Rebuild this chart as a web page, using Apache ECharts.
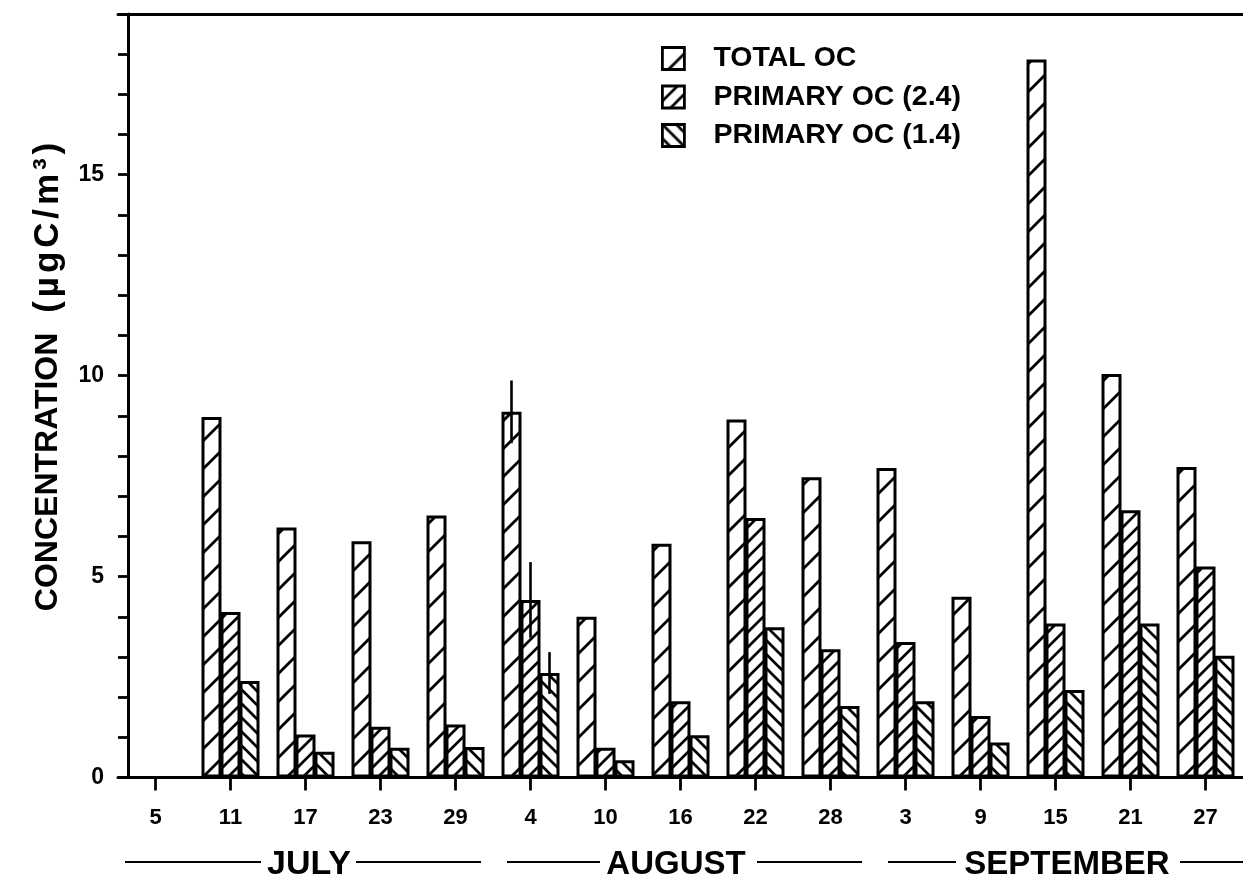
<!DOCTYPE html>
<html>
<head>
<meta charset="utf-8">
<script src="https://cdn.jsdelivr.net/npm/echarts@6/dist/echarts.min.js"></script>
<style>
html,body{margin:0;padding:0;background:#fff;}
#c{width:1243px;height:888px;}
</style>
</head>
<body>
<div id="c"></div>
<script>
// ---- data ----
const dates = ['5','11','17','23','29','4','10','16','22','28','3','9','15','21','27'];
const totalOC   = ['-', 8.97, 6.22, 5.88, 6.52, 9.10, 4.00, 5.82, 8.91, 7.47, 7.70, 4.50, 17.87, 10.04, 7.73];
const primary24 = ['-', 4.12, 1.07, 1.26, 1.32, 4.42, 0.74, 1.90, 6.46, 3.19, 3.37, 1.53, 3.83, 6.65, 5.25];
const primary14 = ['-', 2.40, 0.64, 0.74, 0.76, 2.60, 0.43, 1.05, 3.74, 1.78, 1.90, 0.87, 2.18, 3.83, 3.03];
// error bars (only on the 4 Aug sample): [category index, value, +/- error, series index]
const errorBars = [[5, 9.10, 0.78, 0], [5, 4.42, 0.94, 1], [5, 2.60, 0.52, 2]];
const seriesNames = ['TOTAL OC', 'PRIMARY OC (2.4)', 'PRIMARY OC (1.4)'];
const months = ['JULY', 'AUGUST', 'SEPTEMBER'];
const yTickLabels = [0, 5, 10, 15];
const yName = 'CONCENTRATION';
const yUnit = ['(', 'µ', 'g', 'C', '/', 'm', '³', ')'];

const FONT = '"Liberation Sans", Arial, Helvetica, sans-serif';

function hatch(size, dir, lw) {
  const c = document.createElement('canvas');
  c.width = size; c.height = size;
  const g = c.getContext('2d');
  g.fillStyle = '#fff'; g.fillRect(0, 0, size, size);
  g.strokeStyle = '#000'; g.lineWidth = lw;
  const d = 3;
  g.beginPath();
  if (dir === '/') {
    g.moveTo(-d, size + d); g.lineTo(size + d, -d);
    g.moveTo(-d, d); g.lineTo(d, -d);
    g.moveTo(size - d, size + d); g.lineTo(size + d, size - d);
  } else {
    g.moveTo(-d, -d); g.lineTo(size + d, size + d);
    g.moveTo(size - d, -d); g.lineTo(size + d, d);
    g.moveTo(-d, size - d); g.lineTo(d, size + d);
  }
  g.stroke();
  return { image: c, repeat: 'repeat' };
}
const patterns = [hatch(28, '/', 2.8), hatch(15, '/', 2.7), hatch(14, '\\', 2.7)];

const BAR_W = 20;
const BAR_STEP = 19;

const chart = echarts.init(document.getElementById('c'), null, { renderer: 'canvas' });

function barSeries(i, data) {
  return {
    name: seriesNames[i],
    type: 'bar',
    data: data,
    barWidth: BAR_W,
    barGap: '-5%',
    barCategoryGap: '20%',
    itemStyle: { color: patterns[i], borderColor: '#000', borderWidth: 3 },
    emphasis: { disabled: true },
    z: 2
  };
}

// rotated y-axis title built as rich text (unit letters slightly spaced)
const unitRich = yUnit.map(ch => '{u|' + ch + '}').join('{g| }');
const yTitle = '{n|' + yName + '}{w|   }' + unitRich;

const option = {
  backgroundColor: '#fff',
  animation: false,
  grid: { left: 118, right: -14.5, top: 14, bottom: 110.5, containLabel: false },
  legend: {
    orient: 'vertical',
    left: 656, top: 39,
    icon: 'rect',
    itemWidth: 22, itemHeight: 22,
    itemGap: 9.5,
    itemStyle: { borderColor: '#000', borderWidth: 2.8 },
    textStyle: { fontFamily: FONT, fontWeight: 'bold', fontSize: 28.5, color: '#000', padding: [0, 0, 0, 24], lineHeight: 22 },
    data: seriesNames,
    selectedMode: false
  },
  xAxis: [{
    type: 'category',
    data: dates,
    position: 'bottom',
    axisLine: { show: true, lineStyle: { color: '#000', width: 3 } },
    axisTick: { show: true, alignWithLabel: true, length: 13, lineStyle: { color: '#000', width: 2.8 } },
    axisLabel: { interval: 0, margin: 29, color: '#000', fontFamily: FONT, fontWeight: 'bold', fontSize: 22 },
    splitLine: { show: false }
  }, {
    type: 'category',
    data: dates,
    position: 'top',
    axisLine: { show: true, onZero: false, lineStyle: { color: '#000', width: 3 } },
    axisTick: { show: false },
    axisLabel: { show: false },
    splitLine: { show: false }
  }],
  yAxis: {
    type: 'value',
    min: 0, max: 19, interval: 1,
    offset: -10,
    axisLine: { show: true, lineStyle: { color: '#000', width: 3 } },
    axisTick: { show: true, length: 10, lineStyle: { color: '#000', width: 2.8 } },
    axisLabel: {
      margin: 24, color: '#000', fontFamily: FONT, fontWeight: 'bold', fontSize: 23,
      formatter: v => (yTickLabels.indexOf(v) >= 0 ? String(v) : '')
    },
    splitLine: { show: false }
  },
  series: [
    barSeries(0, totalOC),
    barSeries(1, primary24),
    barSeries(2, primary14),
    {
      type: 'custom',
      name: 'err',
      data: errorBars,
      z: 5,
      renderItem: function (params, api) {
        const cat = api.value(0), v = api.value(1), e = api.value(2), s = api.value(3);
        const hi = api.coord([cat, v + e]);
        const lo = api.coord([cat, v - e]);
        const dx = (s - 1) * BAR_STEP;
        return {
          type: 'line',
          shape: { x1: hi[0] + dx, y1: hi[1], x2: lo[0] + dx, y2: lo[1] },
          style: { stroke: '#000', lineWidth: 2.6 }
        };
      },
      silent: true
    }
  ],
  graphic: [
    {
      type: 'text', x: 48, y: 377, rotation: Math.PI / 2,
      style: {
        text: yTitle, fill: '#000', textAlign: 'center', textVerticalAlign: 'middle',
        rich: {
          n: { fontFamily: FONT, fontWeight: 'bold', fontSize: 32, fill: '#000' },
          u: { fontFamily: FONT, fontWeight: 'bold', fontSize: 35, fill: '#000' },
          g: { fontFamily: FONT, fontWeight: 'bold', fontSize: 14 },
          w: { fontFamily: FONT, fontWeight: 'bold', fontSize: 24 }
        }
      }
    },
    { type: 'line', shape: { x1: 125, y1: 862, x2: 261, y2: 862 }, style: { stroke: '#000', lineWidth: 2.2 } },
    { type: 'text', x: 309, y: 865, style: { text: months[0], fill: '#000', font: 'bold 34px ' + FONT, textAlign: 'center', textVerticalAlign: 'middle' } },
    { type: 'line', shape: { x1: 356, y1: 862, x2: 481, y2: 862 }, style: { stroke: '#000', lineWidth: 2.2 } },
    { type: 'line', shape: { x1: 507, y1: 862, x2: 600, y2: 862 }, style: { stroke: '#000', lineWidth: 2.2 } },
    { type: 'text', x: 676, y: 865, style: { text: months[1], fill: '#000', font: 'bold 33px ' + FONT, textAlign: 'center', textVerticalAlign: 'middle' } },
    { type: 'line', shape: { x1: 757, y1: 862, x2: 862, y2: 862 }, style: { stroke: '#000', lineWidth: 2.2 } },
    { type: 'line', shape: { x1: 888, y1: 862, x2: 956, y2: 862 }, style: { stroke: '#000', lineWidth: 2.2 } },
    { type: 'text', x: 1067, y: 865, style: { text: months[2], fill: '#000', font: 'bold 33px ' + FONT, textAlign: 'center', textVerticalAlign: 'middle' } },
    { type: 'line', shape: { x1: 1180, y1: 862, x2: 1243, y2: 862 }, style: { stroke: '#000', lineWidth: 2.2 } }
  ]
};
chart.setOption(option);
</script>
</body>
</html>
